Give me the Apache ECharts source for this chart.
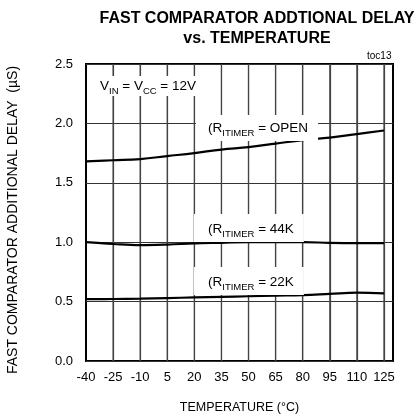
<!DOCTYPE html>
<html><head><meta charset="utf-8">
<script src="https://cdn.jsdelivr.net/npm/echarts@6/dist/echarts.min.js"></script>
<style>html,body{margin:0;padding:0;background:#fff}#c{width:417px;height:420px}</style>
</head><body><div id="c"></div>
<script>
const temps = [-40, -25, -10, 5, 20, 35, 50, 65, 80, 95, 110, 125];
const openDelay = [1.68, 1.69, 1.70, 1.725, 1.75, 1.78, 1.80, 1.83, 1.86, 1.88, 1.91, 1.94];
const k44Delay = [1.00, 0.985, 0.975, 0.98, 0.99, 0.995, 1.0, 1.0, 1.0, 0.995, 0.993, 0.993];
const k22Delay = [0.52, 0.522, 0.525, 0.53, 0.535, 0.54, 0.545, 0.55, 0.555, 0.565, 0.575, 0.57];
const xTicks = [-40, -25, -10, 5, 20, 35, 50, 65, 80, 95, 110, 125];
const yTicks = [0, 0.5, 1.0, 1.5, 2.0, 2.5];

const FONT = 'Liberation Sans, Arial, sans-serif';
const pair = (xs, ys) => xs.map((x, i) => [x, ys[i]]);
const lineSeries = (name, ys) => ({
  name, type: 'line', data: pair(temps, ys), smooth: 0.4, symbol: 'none',
  lineStyle: { color: '#000', width: 2.2 }, z: 5
});
const sub = { fontSize: 9.5, verticalAlign: 'bottom', padding: [0, 0, -3, 0], fontFamily: FONT, color: '#000' };
const base = { fontSize: 13.5, fontFamily: FONT, color: '#000' };

const chart = echarts.init(document.getElementById('c'), null, { renderer: 'canvas' });
chart.setOption({
  animation: false,
  backgroundColor: '#fff',
  title: {
    text: 'FAST COMPARATOR ADDTIONAL DELAY\nvs. TEMPERATURE',
    left: 252, top: 4, textAlign: 'center',
    textStyle: { fontSize: 16, fontWeight: 'bold', fontFamily: FONT, color: '#000', lineHeight: 20 }
  },
  grid: { left: 86, right: 24, top: 64, bottom: 59, show: true, backgroundColor: 'transparent', borderColor: '#000', borderWidth: 2 },
  xAxis: {
    type: 'value', min: -40, max: 130, interval: 15,
    name: 'TEMPERATURE (°C)', nameLocation: 'middle', nameGap: 40,
    nameTextStyle: { fontSize: 12.5, fontFamily: FONT, color: '#000' },
    axisLine: { show: false },
    axisTick: { show: false },
    axisLabel: { fontSize: 13, fontFamily: FONT, color: '#000', margin: 10, showMaxLabel: false,
      formatter: v => (xTicks.indexOf(v) >= 0 ? String(v) : '') },
    splitLine: { show: true, showMinLine: false, showMaxLine: false, lineStyle: { color: '#444', width: 1.2 } }
  },
  yAxis: {
    type: 'value', min: 0, max: 2.5, interval: 0.5,
    axisLine: { show: false }, axisTick: { show: false },
    axisLabel: { fontSize: 13, fontFamily: FONT, color: '#000', margin: 13, formatter: v => v.toFixed(1) },
    splitLine: { show: true, lineStyle: { color: '#333', width: 1 } }
  },
  graphic: [
    { id: 'toc', type: 'text', left: 367, top: 51, style: { text: 'toc13', fontSize: 10, fontFamily: FONT, fill: '#000' } },
    { id: 'ytitle', type: 'text', x: 13, y: 220, rotation: Math.PI / 2, style: { text: 'FAST COMPARATOR ADDITIONAL DELAY  (µS)', fontSize: 14, fontFamily: FONT, fill: '#000', align: 'center', verticalAlign: 'middle' } },
    { id: 'vin', type: 'text', x: 98, y: 86, z: 10, style: {
      text: '{b|V}{s|IN}{b| = V}{s|CC}{b| = 12V}', verticalAlign: 'middle',
      backgroundColor: '#fff', padding: [3, 2],
      rich: { b: base, s: sub } } },
    { id: 'lopen', type: 'text', x: 196, y: 128, z: 10, style: {
      text: '{b|(R}{s|ITIMER}{b| = OPEN}', verticalAlign: 'middle',
      backgroundColor: '#fff', padding: [6, 10, 6, 12],
      rich: { b: base, s: sub } } },
    { id: 'l44', type: 'text', x: 194, y: 228, z: 10, style: {
      text: '{b|(R}{s|ITIMER}{b| = 44K}', verticalAlign: 'middle',
      backgroundColor: '#fff', padding: [8, 10, 6, 14],
      rich: { b: base, s: sub } } },
    { id: 'l22', type: 'text', x: 194, y: 281, z: 10, style: {
      text: '{b|(R}{s|ITIMER}{b| = 22K}', verticalAlign: 'middle',
      backgroundColor: '#fff', padding: [8, 10, 6, 14],
      rich: { b: base, s: sub } } }
  ],
  series: [
    lineSeries('OPEN', openDelay),
    lineSeries('44K', k44Delay),
    lineSeries('22K', k22Delay)
  ]
});

const vLines = xTicks.slice(1).map((x, i) => {
  const p0 = chart.convertToPixel({ xAxisIndex: 0, yAxisIndex: 0 }, [x, 0]);
  const p1 = chart.convertToPixel({ xAxisIndex: 0, yAxisIndex: 0 }, [x, 2.5]);
  return { id: 'vg' + i, type: 'line', z: 1, silent: true,
    shape: { x1: p0[0], y1: p0[1], x2: p1[0], y2: p1[1] },
    style: { stroke: '#444', lineWidth: 1.2 } };
});
chart.setOption({ graphic: vLines });
</script></body></html>
